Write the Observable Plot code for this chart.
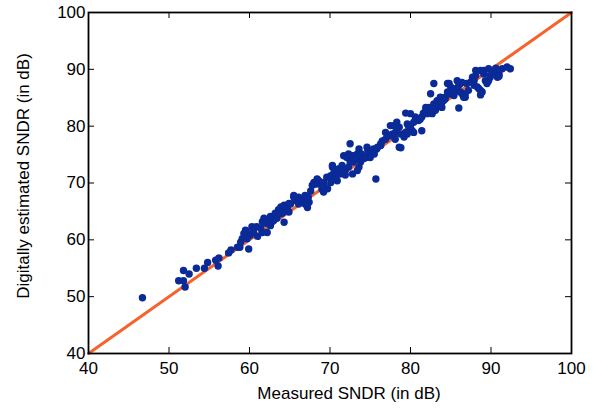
<!DOCTYPE html>
<html><head><meta charset="utf-8">
<script src="https://cdn.jsdelivr.net/npm/d3@7"></script>
<script src="https://cdn.jsdelivr.net/npm/@observablehq/plot@0.6"></script>
<style>body{margin:0;background:#fff;}</style>
</head><body><div id="chart"></div>
<script>
const measured = [46.7,51.2,51.8,52.0,51.8,52.5,53.4,54.4,54.8,55.8,56.2,56.1,57.4,57.7,58.5,58.8,58.9,59.1,59.3,59.5,59.6,59.7,59.9,60.1,60.5,60.3,60.9,61.0,61.4,61.6,61.6,61.8,62.0,62.2,62.4,62.6,62.6,62.8,63.0,63.2,63.4,63.6,63.9,63.9,64.1,64.3,64.3,64.5,64.7,64.9,64.9,65.1,65.5,65.5,65.7,66.1,66.1,66.3,66.5,66.7,66.9,66.9,67.2,67.3,67.4,67.6,67.8,68.0,68.2,68.4,68.6,68.8,69.0,69.0,69.2,69.2,69.4,69.6,69.7,70.1,70.1,70.3,70.3,70.5,70.5,70.7,70.9,70.9,71.1,71.3,71.5,71.7,71.9,71.9,72.1,72.3,72.3,72.5,72.5,72.7,72.8,72.9,73.0,73.1,73.4,73.4,73.5,73.6,73.6,73.8,73.9,74.1,74.2,74.4,74.5,74.6,74.7,74.8,75.0,75.2,75.4,75.5,75.7,75.8,75.9,76.3,76.3,76.5,76.9,76.9,77.3,77.5,77.7,77.7,77.9,78.1,78.1,78.3,78.3,78.6,78.6,78.8,78.8,79.2,79.4,79.4,79.6,79.6,79.8,80.0,80.0,80.2,80.4,80.4,80.6,81.0,81.2,81.4,81.4,81.6,81.9,81.9,82.1,82.3,82.5,82.5,82.7,82.9,82.9,83.1,83.3,83.5,83.7,83.9,83.9,84.1,84.3,84.3,84.6,84.6,84.8,84.8,85.0,85.0,85.2,85.4,85.4,85.6,85.8,85.8,86.0,86.0,86.2,86.2,86.4,86.4,86.6,86.8,86.8,87.0,87.2,87.5,87.7,87.9,87.9,88.1,88.1,88.3,88.5,88.7,88.7,88.7,88.9,89.1,89.1,89.3,89.5,89.7,89.7,89.9,89.9,90.3,90.6,90.8,91.0,91.0,91.4,92.0,92.4];
const estimated = [49.8,52.8,52.8,51.7,54.6,54.0,55.0,55.0,56.0,56.4,56.8,55.4,57.7,58.2,58.7,58.7,59.6,60.2,61.1,61.7,61.5,60.2,58.4,60.8,61.4,62.3,62.3,60.6,62.0,61.3,63.2,63.8,62.9,61.3,63.5,64.1,62.5,63.2,63.4,64.7,63.8,65.3,65.8,64.6,64.7,66.1,63.1,65.2,65.5,66.4,64.9,66.3,67.5,67.8,66.9,66.3,67.5,67.2,66.9,66.9,66.3,67.8,65.7,67.5,66.6,68.6,69.6,70.1,69.8,70.7,70.4,69.8,68.9,69.6,70.1,68.4,69.2,71.0,69.0,71.3,70.1,72.8,73.1,71.9,70.7,72.2,71.6,70.4,72.5,71.6,73.1,74.8,72.2,71.4,74.5,72.8,75.1,73.7,76.9,74.8,71.6,73.7,74.8,74.3,72.2,75.1,74.5,72.8,76.0,73.7,75.1,74.3,74.3,74.5,74.5,76.3,75.7,75.4,74.5,75.1,76.0,75.1,70.7,76.0,76.3,76.6,76.9,77.4,77.7,78.9,78.3,80.1,78.6,78.3,80.1,78.9,77.7,79.8,80.7,79.8,76.3,76.2,78.6,78.1,78.9,82.3,80.4,78.6,79.8,82.2,79.8,79.2,80.7,78.9,81.6,81.0,81.2,79.2,81.6,82.3,82.8,83.3,82.2,83.3,82.8,85.7,82.2,83.9,87.5,82.8,84.5,83.6,85.1,83.3,84.2,84.5,84.8,85.1,87.5,86.0,85.7,87.5,86.9,85.7,86.6,85.4,86.0,86.6,88.0,86.3,87.2,83.2,87.5,86.0,87.7,85.7,85.1,85.7,85.1,87.5,86.3,87.8,88.6,88.0,87.2,89.8,88.9,86.9,86.6,89.8,86.3,85.5,86.0,89.2,89.8,88.0,87.5,88.0,90.1,88.6,88.9,89.5,90.2,88.6,89.2,88.8,90.1,90.4,90.1];
const xTicks = [40, 50, 60, 70, 80, 90, 100];
const yTicks = [40, 50, 60, 70, 80, 90, 100];
const refLine = [40, 100];

const W = 605, H = 411, mL = 88, mR = 34, mT = 12, mB = 58;
const plotW = W - mL - mR, plotH = H - mT - mB, tk = 6;
const points = measured.map((m, i) => ({m, e: estimated[i]}));

const chart = Plot.plot({
  width: W, height: H,
  marginLeft: mL, marginRight: mR, marginTop: mT, marginBottom: mB,
  style: {fontFamily: "'Liberation Sans', Arial, sans-serif", fontSize: "17px", color: "#000", background: "#fff"},
  x: {domain: [40, 100]},
  y: {domain: [40, 100]},
  marks: [
    Plot.line(refLine.map(v => ({m: v, e: v})), {x: "m", y: "e", stroke: "#f5642d", strokeWidth: 3}),
    Plot.dot(points, {x: "m", y: "e", r: 3.7, fill: "#0a2a98", stroke: "none"}),
    Plot.ruleX(xTicks, {x: d => d, insetTop: plotH - tk, stroke: "#000"}),
    Plot.ruleX(xTicks, {x: d => d, insetBottom: plotH - tk, stroke: "#000"}),
    Plot.ruleY(yTicks, {y: d => d, insetRight: plotW - tk, stroke: "#000"}),
    Plot.ruleY(yTicks, {y: d => d, insetLeft: plotW - tk, stroke: "#000"}),
    Plot.frame({stroke: "#000", strokeWidth: 1.8}),
    Plot.axisX(xTicks, {tickSize: 0, tickPadding: 8, fontSize: 17, label: null}),
    Plot.axisY(yTicks, {tickSize: 0, tickPadding: 3, fontSize: 17, label: null}),
    Plot.text(["Measured SNDR (in dB)"], {frameAnchor: "bottom", dx: 19, dy: 45, textAnchor: "middle", fontSize: 17, text: d => d}),
    Plot.text(["Digitally estimated SNDR (in dB)"], {frameAnchor: "left", dx: -65, dy: -7, textAnchor: "middle", rotate: -90, fontSize: 17, text: d => d})
  ]
});
document.getElementById("chart").appendChild(chart);
</script>
</body></html>
